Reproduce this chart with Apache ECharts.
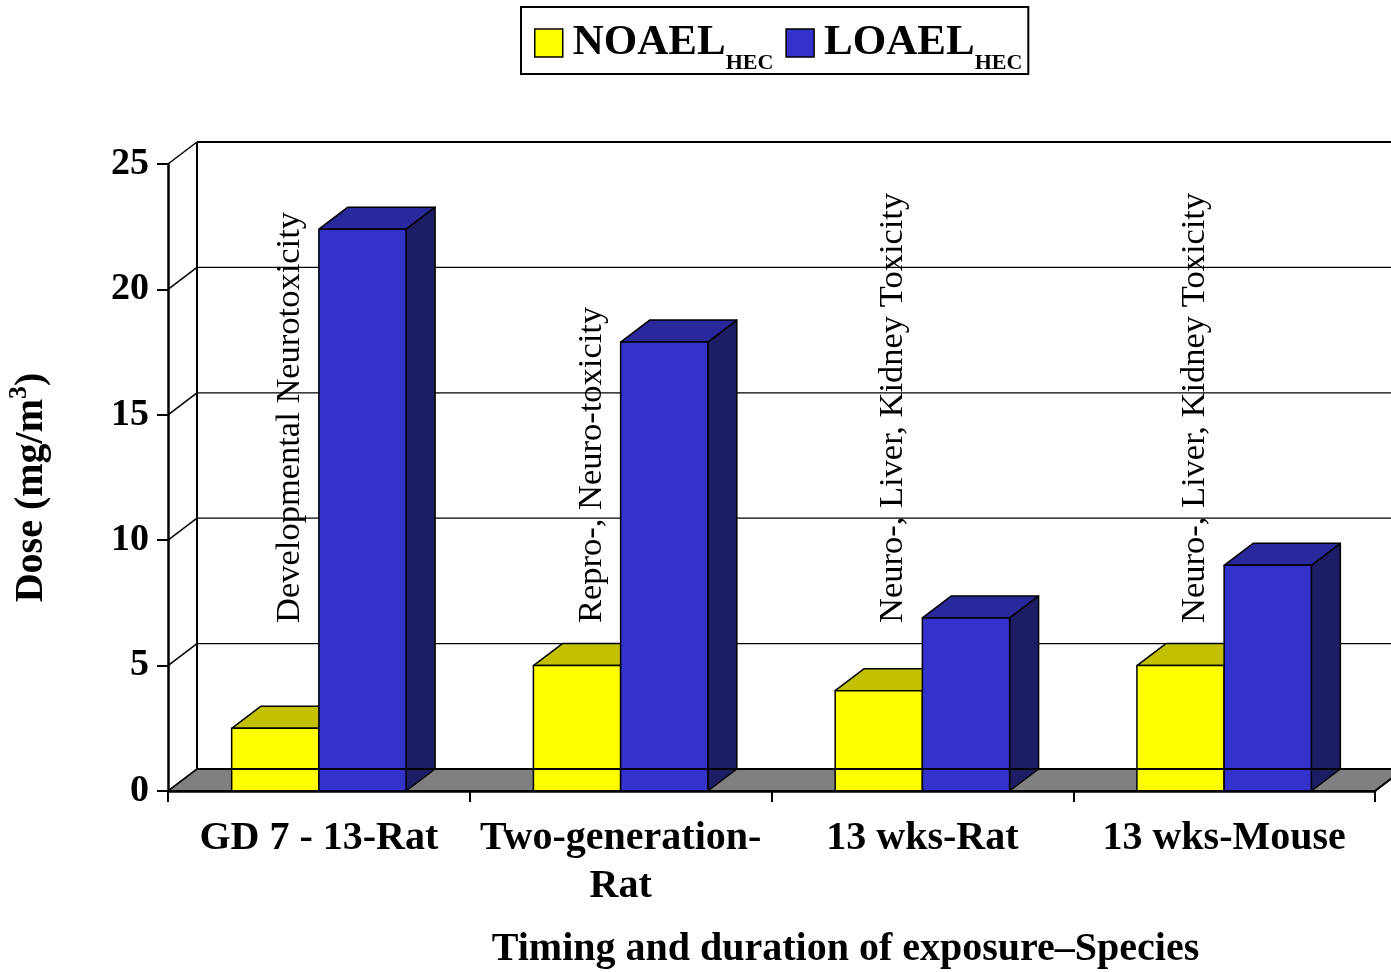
<!DOCTYPE html>
<html>
<head>
<meta charset="utf-8">
<style>
  html, body { margin: 0; padding: 0; background: #fff; }
  #chart { width: 1391px; height: 972px; }
</style>
<script src="https://cdn.jsdelivr.net/npm/echarts@6/dist/echarts.min.js"></script>
</head>
<body>
<div id="chart"></div>
<script>
// ---- data ----
const categories = ['GD 7 - 13-Rat', 'Two-generation-\nRat', '13 wks-Rat', '13 wks-Mouse'];
const noaelHEC = [2.5, 5.0, 4.0, 5.0];
const loaelHEC = [22.4, 17.9, 6.9, 9.0];
const effects = [
  'Developmental Neurotoxicity',
  'Repro-, Neuro-toxicity',
  'Neuro-, Liver, Kidney Toxicity',
  'Neuro-, Liver, Kidney Toxicity'
];
const yTicks = [0, 5, 10, 15, 20, 25];

// ---- style constants ----
const FONT = 'Liberation Serif';
const DX = 29, DY = 22;      // depth offset of the pseudo-3D wall
const BAR_FRAC = 0.289;      // bar width as fraction of category band
const LW = 1.5;

const chart = echarts.init(document.getElementById('chart'), null, { renderer: 'canvas' });

function barRenderer(side, frontCol, topCol, sideCol) {
  return function (params, api) {
    const i = api.value(0), v = api.value(1);
    const base = api.coord([i, 0]);
    const tp = api.coord([i, v]);
    const bw = api.size([1, 0])[0] * BAR_FRAC;
    const x0 = side === 0 ? base[0] - bw : base[0];
    const x1 = x0 + bw;
    const y0 = base[1], y1 = tp[1];
    const st = (c) => ({ fill: c, stroke: '#000', lineWidth: LW, lineJoin: 'round' });
    return {
      type: 'group',
      children: [
        { type: 'polygon', shape: { points: [[x1, y0], [x1 + DX, y0 - DY], [x1 + DX, y1 - DY], [x1, y1]] }, style: st(sideCol) },
        { type: 'polygon', shape: { points: [[x0, y1], [x0 + DX, y1 - DY], [x1 + DX, y1 - DY], [x1, y1]] }, style: st(topCol) },
        { type: 'rect', shape: { x: x0, y: y1, width: bw, height: y0 - y1 }, style: st(frontCol) }
      ]
    };
  };
}

function frameBack(params, api) {
  const cs = params.coordSys;
  const xl = cs.x, xr = cs.x + cs.width;
  const y0 = api.coord([0, 0])[1];
  const children = [];
  children.push({ type: 'polygon', shape: { points: [[xl, y0], [xr, y0], [xr + DX, y0 - DY], [xl + DX, y0 - DY]] },
    style: { fill: '#808080', stroke: '#000', lineWidth: LW } });
  yTicks.forEach(function (t) {
    if (t === 0) return;
    const y = api.coord([0, t])[1];
    children.push({ type: 'line', shape: { x1: xl + DX, y1: y - DY, x2: xr + DX + 40, y2: y - DY },
      style: { stroke: '#000', lineWidth: t === yTicks[yTicks.length - 1] ? 2 : 1.3 } });
  });
  const yTop = api.coord([0, yTicks[yTicks.length - 1]])[1];
  children.push({ type: 'line', shape: { x1: xl + DX, y1: yTop - DY, x2: xl + DX, y2: y0 - DY }, style: { stroke: '#000', lineWidth: 2 } });
  yTicks.forEach(function (t) {
    const y = api.coord([0, t])[1];
    children.push({ type: 'line', shape: { x1: xl, y1: y, x2: xl + DX, y2: y - DY }, style: { stroke: '#000', lineWidth: 1.5 } });
  });
  return { type: 'group', children: children };
}

function frameFront(params, api) {
  const cs = params.coordSys;
  const xl = cs.x, xr = cs.x + cs.width;
  const y0 = api.coord([0, 0])[1];
  return { type: 'group', children: [
    { type: 'line', shape: { x1: xl + DX, y1: y0 - DY, x2: xr + DX, y2: y0 - DY }, style: { stroke: '#000', lineWidth: 2 } },
    { type: 'line', shape: { x1: xr, y1: y0, x2: xr + DX, y2: y0 - DY }, style: { stroke: '#000', lineWidth: 2 } }
  ]};
}

function effectRenderer(params, api) {
  const i = api.value(0);
  const base = api.coord([i, 0]);
  return {
    type: 'text',
    x: base[0] - 29,
    y: base[1] - 168,
    rotation: Math.PI / 2,
    style: {
      text: effects[i],
      fill: '#000',
      font: '34.5px "' + FONT + '"',
      align: 'left',
      verticalAlign: 'middle'
    }
  };
}

const option = {
  backgroundColor: '#fff',
  animation: false,
  textStyle: { fontFamily: FONT },
  grid: { left: 168, right: 16, top: 164, bottom: 181, containLabel: false, outerBoundsMode: 'none' },
  legend: {
    data: ['NOAEL', 'LOAEL'],
    left: 521, top: 7,
    backgroundColor: '#fff',
    borderColor: '#000', borderWidth: 2,
    padding: [13, 6, 0, 13],
    itemWidth: 28, itemHeight: 28, itemGap: 12,
    icon: 'rect',
    itemStyle: { borderColor: '#000', borderWidth: 1.5 },
    formatter: function (name) { return '{n|' + name + '}{s|HEC}'; },
    textStyle: {
      padding: [0, 0, 0, 5],
      rich: {
        n: { fontFamily: FONT, fontWeight: 'bold', fontSize: 43, lineHeight: 46, verticalAlign: 'top', padding: [1, 0, 0, 0], color: '#000' },
        s: { fontFamily: FONT, fontWeight: 'bold', fontSize: 22, lineHeight: 18, verticalAlign: 'top', padding: [32, 0, 0, 0], color: '#000' }
      }
    }
  },
  xAxis: {
    type: 'category',
    data: categories,
    z: 10,
    boundaryGap: true,
    axisLine: { lineStyle: { color: '#000', width: 2.5 } },
    axisTick: { show: true, length: 11, lineStyle: { color: '#000', width: 2 }, interval: 0 },
    axisLabel: { color: '#000', fontFamily: FONT, fontWeight: 'bold', fontSize: 40, lineHeight: 48, margin: 24, interval: 0 },
    splitLine: { show: false },
    name: 'Timing and duration of exposure\u2013Species',
    nameLocation: 'middle',
    nameGap: 139,
    nameTextStyle: { color: '#000', fontFamily: FONT, fontWeight: 'bold', fontSize: 40, padding: [0, 0, 0, 148] }
  },
  yAxis: {
    type: 'value',
    min: 0, max: 25, interval: 5,
    z: 10,
    axisLine: { show: true, lineStyle: { color: '#000', width: 2.5 } },
    axisTick: { show: true, length: 11, lineStyle: { color: '#000', width: 2 } },
    axisLabel: { color: '#000', fontFamily: FONT, fontWeight: 'bold', fontSize: 38, margin: 19 },
    splitLine: { show: false },
    name: '{a|Dose (mg/m}{b|3}{a|)}',
    nameLocation: 'middle',
    nameGap: 116,
    nameRotate: 90,
    nameTextStyle: {
      padding: [0, 20, 0, 0],
      rich: {
        a: { fontFamily: FONT, fontWeight: 'bold', fontSize: 40, lineHeight: 44, verticalAlign: 'bottom', color: '#000' },
        b: { fontFamily: FONT, fontWeight: 'bold', fontSize: 26, lineHeight: 30, verticalAlign: 'bottom', padding: [0, 0, 20, 0], color: '#000' }
      }
    }
  },
  series: [
    {
      type: 'custom', name: 'frameBack', z: 1, silent: true,
      renderItem: frameBack, data: [[0, 0]], encode: { x: 0, y: 1 }
    },
    {
      type: 'custom', name: 'NOAEL', z: 2,
      itemStyle: { color: '#FFFF00' },
      renderItem: barRenderer(0, '#FFFF00', '#C2C000', '#9A9A00'),
      data: noaelHEC.map(function (v, i) { return [i, v]; }),
      encode: { x: 0, y: 1 }
    },
    {
      type: 'custom', name: 'LOAEL', z: 3,
      itemStyle: { color: '#3333CC' },
      renderItem: barRenderer(1, '#3333CC', '#29299C', '#1D1D66'),
      data: loaelHEC.map(function (v, i) { return [i, v]; }),
      encode: { x: 0, y: 1 }
    },
    {
      type: 'custom', name: 'frameFront', z: 4, silent: true,
      renderItem: frameFront, data: [[0, 0]], encode: { x: 0, y: 1 }
    },
    {
      type: 'custom', name: 'effects', z: 5, silent: true,
      renderItem: effectRenderer,
      data: effects.map(function (e, i) { return [i, 0]; }),
      encode: { x: 0, y: 1 }
    }
  ]
};
chart.setOption(option);
</script>
</body>
</html>
